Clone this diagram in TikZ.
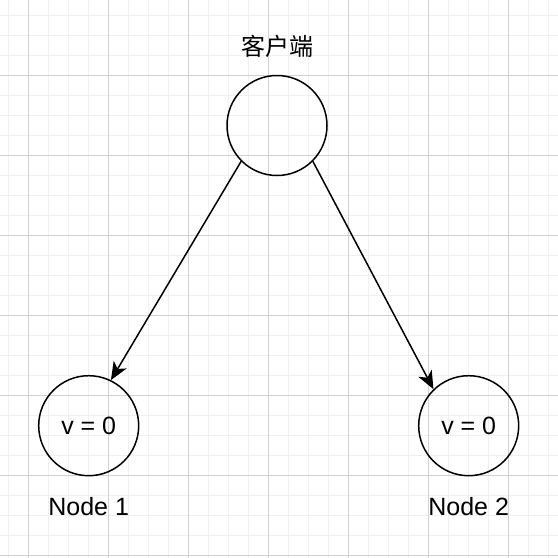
\documentclass[tikz,border=0pt]{standalone}
\usepackage{fontspec}
\setmainfont{Liberation Sans}
\newfontfamily\cjk{Noto Sans CJK SC}
\usetikzlibrary{arrows.meta}
\definecolor{gridminor}{RGB}{240,240,240}
\definecolor{gridmajor}{RGB}{210,210,210}
\begin{document}
\begin{tikzpicture}[x=1pt,y=-1pt,line join=round,line cap=round,
	peer/.style={circle,draw,line width=1.5pt,minimum size=100pt,inner sep=0pt,font=\fontsize{25}{30}\selectfont},
	tag/.style={font=\fontsize{25}{30}\selectfont},
	link/.style={-{Stealth[length=18pt,width=15pt,inset=5pt]},line width=1.5pt}]
	\useasboundingbox (0,0) rectangle (558,558);
	\fill[white] (0,0) rectangle (558,558);
	% background grid
	\foreach \x in {8,28,...,548}
	\draw[gridminor,line width=1pt] (\x,0)--(\x,558);
	\foreach \y in {15,35,...,555}
	\draw[gridminor,line width=1pt] (0,\y)--(558,\y);
	\foreach \x in {28,108,...,508}
	\draw[gridmajor,line width=1pt] (\x,0)--(\x,558);
	\foreach \y in {75,155,...,555}
	\draw[gridmajor,line width=1pt] (0,\y)--(558,\y);
	% client and the two nodes
	\node[peer] (client) at (277,125.5) {};
	\node[tag,font=\cjk\fontsize{24}{28}\selectfont] (clientlbl) at (277,46) {客户端};
	\node[peer] (n1) at (88.7,425.7) {v = 0};
	\node[peer] (n2) at (468.7,425.7) {v = 0};
	\node[tag] (n1lbl) at (88.7,506.5) {Node 1};
	\node[tag] (n2lbl) at (468.7,506.5) {Node 2};
	\draw[link] (client.225)--(n1.64);
	\draw[link] (client.315)--(n2.134);
\end{tikzpicture}
\end{document}
